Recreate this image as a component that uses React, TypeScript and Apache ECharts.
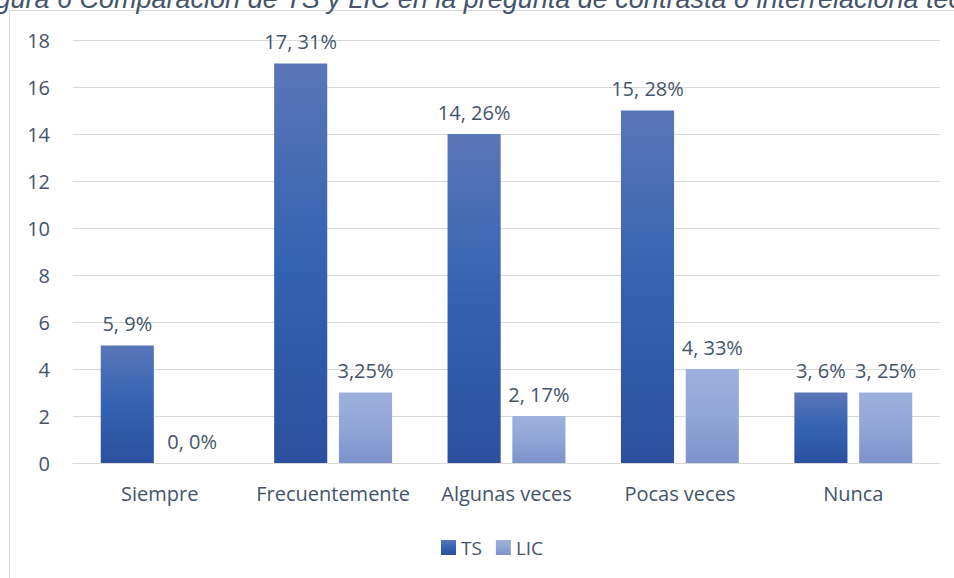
import React, { useEffect, useRef } from "react";
import * as echarts from "echarts";

const categories = ["Siempre", "Frecuentemente", "Algunas veces", "Pocas veces", "Nunca"];
const tsValues = [5, 17, 14, 15, 3];
const licValues = [0, 3, 2, 4, 3];
const tsLabels = ["5, 9%", "17, 31%", "14, 26%", "15, 28%", "3, 6%"];
const licLabels = ["0, 0%", "3,25%", "2, 17%", "4, 33%", "3, 25%"];
const titleText = "Figura 6 Comparación de TS y LIC en la pregunta de contrasta o interrelaciona teorías";

export default function App() {
  const ref = useRef<HTMLDivElement>(null);
  useEffect(() => {
    if (!ref.current) return;
    const chart = echarts.init(ref.current, null, { renderer: "svg" });
    const font = "'Open Sans', 'Noto Sans', sans-serif";
    const textColor = "#44546a";
    const tsGrad = new echarts.graphic.LinearGradient(0, 0, 0, 1, [
      { offset: 0, color: "#5a76b8" },
      { offset: 0.5, color: "#3462b2" },
      { offset: 1, color: "#2b509e" },
    ]);
    const licGrad = new echarts.graphic.LinearGradient(0, 0, 0, 1, [
      { offset: 0, color: "#9eb0dc" },
      { offset: 0.5, color: "#91a5d7" },
      { offset: 1, color: "#7c92ca" },
    ]);
    const labelStyle = {
      show: true,
      position: "top",
      distance: 12,
      color: textColor,
      fontSize: 20,
      fontFamily: font,
    };
    chart.setOption({
      animation: false,
      backgroundColor: "#ffffff",
      textStyle: { fontFamily: font },
      graphic: [
        {
          type: "rect",
          shape: { x: 9.5, y: 10.5, width: 960, height: 600 },
          style: { fill: "none", stroke: "#d9d9d9", lineWidth: 1 },
          z: -1,
        },
        {
          type: "text",
          x: -27,
          y: 12,
          style: {
            text: titleText,
            fontFamily: "'Liberation Sans', Arial, sans-serif",
            fontStyle: "italic",
            fontSize: 27,
            fill: textColor,
            verticalAlign: "bottom",
            align: "left",
          },
        },
      ],
      grid: { left: 73, right: 14, top: 40, bottom: 115, containLabel: false },
      legend: {
        data: ["TS", "LIC"],
        bottom: 16,
        left: 436,
        itemWidth: 15,
        itemHeight: 15,
        itemGap: 14,
        icon: "rect",
        textStyle: { color: textColor, fontSize: 19, fontFamily: font, padding: [0, 0, 0, 0] },
      },
      xAxis: {
        type: "category",
        data: categories,
        axisLine: { lineStyle: { color: "#d9d9d9" } },
        axisTick: { show: false },
        axisLabel: { color: textColor, fontSize: 20, margin: 20, interval: 0, fontFamily: font },
      },
      yAxis: {
        type: "value",
        min: 0,
        max: 18,
        interval: 2,
        axisLine: { show: false },
        axisTick: { show: false },
        axisLabel: { color: textColor, fontSize: 20, margin: 23, fontFamily: font },
        splitLine: { lineStyle: { color: "#d9d9d9", width: 1 } },
      },
      series: [
        {
          name: "TS",
          type: "bar",
          data: tsValues,
          barGap: "22%",
          barCategoryGap: "32%",
          itemStyle: { color: tsGrad },
          label: { ...labelStyle, formatter: (p: any) => tsLabels[p.dataIndex] },
        },
        {
          name: "LIC",
          type: "bar",
          data: licValues,
          barGap: "22%",
          barCategoryGap: "32%",
          itemStyle: { color: licGrad },
          label: { ...labelStyle, formatter: (p: any) => licLabels[p.dataIndex] },
        },
      ],
    });
    return () => chart.dispose();
  }, []);
  return <div ref={ref} style={{ width: 954, height: 578, position: "absolute", left: 0, top: 0 }} />;
}
